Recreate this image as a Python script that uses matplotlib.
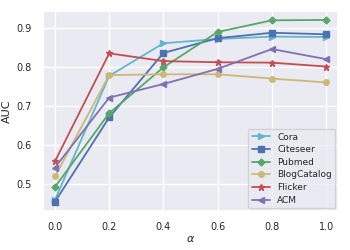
import numpy as np
import matplotlib
matplotlib.use("Agg")
import matplotlib.pyplot as plt
import seaborn as sns

sns.set_theme(style="darkgrid")
plt.rcParams['font.family'] = ['DejaVu Sans']

alpha = [0.0, 0.2, 0.4, 0.6, 0.8, 1.0]
cora = [0.459, 0.778, 0.862, 0.873, 0.879, 0.878]
citeseer = [0.454, 0.671, 0.837, 0.875, 0.889, 0.885]
pubmed = [0.492, 0.682, 0.800, 0.891, 0.921, 0.922]
blogcatalog = [0.519, 0.780, 0.782, 0.782, 0.771, 0.761]
flicker = [0.558, 0.836, 0.816, 0.813, 0.812, 0.802]
acm = [0.542, 0.722, 0.757, 0.796, 0.847, 0.821]

fig = plt.figure(figsize=(3.5, 2.5), dpi=100)
ax = fig.add_axes([0.123, 0.156, 0.843, 0.8])

ax.plot(alpha, cora, marker='>', color='#64B5CD', label='Cora', lw=1.3, ms=4)
ax.plot(alpha, citeseer, marker='s', color='#4C72B0', label='Citeseer', lw=1.3, ms=4)
ax.plot(alpha, pubmed, marker='D', color='#55A868', label='Pubmed', lw=1.3, ms=3.5)
ax.plot(alpha, blogcatalog, marker='o', color='#CCB974', label='BlogCatalog', lw=1.3, ms=4)
ax.plot(alpha, flicker, marker='*', color='#C44E52', label='Flicker', lw=1.3, ms=4.5)
ax.plot(alpha, acm, marker='<', color='#8172B2', label='ACM', lw=1.3, ms=4)

ax.set_xlim(-0.044, 1.044)
ax.set_ylim(0.43, 0.945)
ax.set_xticks(alpha)
ax.set_yticks([0.5, 0.6, 0.7, 0.8, 0.9])
ax.tick_params(labelsize=7, pad=2)
ax.set_xlabel(r'$\alpha$', fontsize=8, labelpad=1)
ax.set_ylabel('AUC', fontsize=8, labelpad=3)
ax.legend(loc='lower right', fontsize=6.5, frameon=True, handlelength=2,
          labelspacing=0.4, borderpad=0.4, borderaxespad=0.3,
          facecolor='#EAEAF2', edgecolor='#cccccc')

fig.savefig('out.png', dpi=100)
